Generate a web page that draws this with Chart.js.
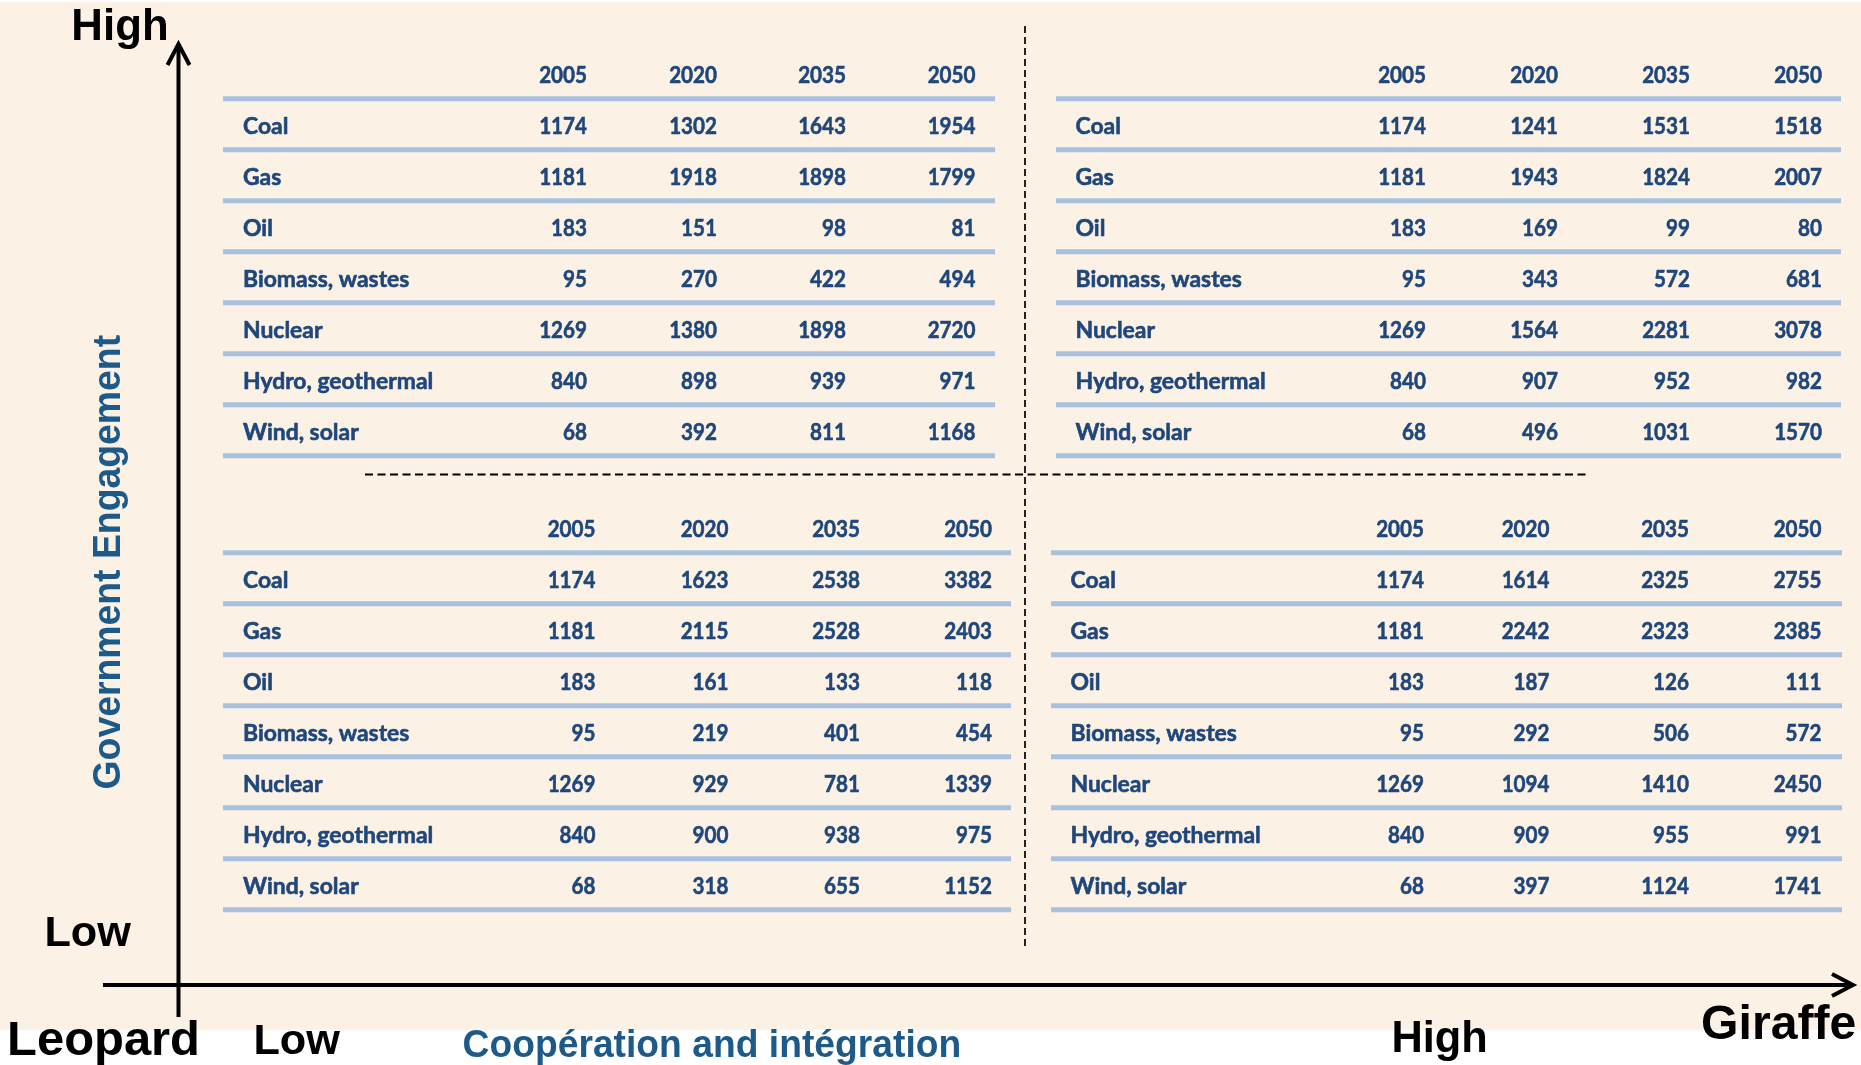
<!DOCTYPE html>
<html>
<head>
<meta charset="utf-8">
<script src="https://cdn.jsdelivr.net/npm/chart.js@4.4.1/dist/chart.umd.min.js"></script>
<style>
html, body { margin: 0; padding: 0; background: #fff; overflow: hidden; }
canvas { display: block; }
</style>
</head>
<body>
<canvas id="quadrants" width="1861" height="1065"></canvas>
<script>
// table headers and rows
const years = ['2005', '2020', '2035', '2050'];
const fuels = ['Coal', 'Gas', 'Oil', 'Biomass, wastes', 'Nuclear', 'Hydro, geothermal', 'Wind, solar'];

// high government engagement, low cooperation (top left)
const highGovLowCoop = [
    [1174, 1302, 1643, 1954],
    [1181, 1918, 1898, 1799],
    [183, 151, 98, 81],
    [95, 270, 422, 494],
    [1269, 1380, 1898, 2720],
    [840, 898, 939, 971],
    [68, 392, 811, 1168]
];

// high government engagement, high cooperation (top right)
const highGovHighCoop = [
    [1174, 1241, 1531, 1518],
    [1181, 1943, 1824, 2007],
    [183, 169, 99, 80],
    [95, 343, 572, 681],
    [1269, 1564, 2281, 3078],
    [840, 907, 952, 982],
    [68, 496, 1031, 1570]
];

// low government engagement, low cooperation (bottom left)
const lowGovLowCoop = [
    [1174, 1623, 2538, 3382],
    [1181, 2115, 2528, 2403],
    [183, 161, 133, 118],
    [95, 219, 401, 454],
    [1269, 929, 781, 1339],
    [840, 900, 938, 975],
    [68, 318, 655, 1152]
];

// low government engagement, high cooperation (bottom right)
const lowGovHighCoop = [
    [1174, 1614, 2325, 2755],
    [1181, 2242, 2323, 2385],
    [183, 187, 126, 111],
    [95, 292, 506, 572],
    [1269, 1094, 1410, 2450],
    [840, 909, 955, 991],
    [68, 397, 1124, 1741]
];

const W = 1861;
const H = 1065;
const rowStep = 51;
const ruleColor = '#A9C0DF';
const tableColor = '#1F477A';
const titleBlue = '#1D5A8A';
const cream = '#FCF1E5';

const tables = [
    {values: highGovLowCoop, left: 223, right: 995, labelX: 243, cols: [587, 717, 846, 975.5], top: 98.7},
    {values: highGovHighCoop, left: 1056, right: 1841, labelX: 1075.5, cols: [1426, 1558, 1690, 1822], top: 98.7},
    {values: lowGovLowCoop, left: 223, right: 1011, labelX: 243, cols: [595.5, 728.5, 860, 992], top: 552.7},
    {values: lowGovHighCoop, left: 1051, right: 1842, labelX: 1070.5, cols: [1424, 1549.5, 1689, 1821.5], top: 552.7}
];

function lineSet(points, color, width, dash) {
    return {
        data: points,
        showLine: true,
        borderColor: color,
        borderWidth: width,
        borderDash: dash || [],
        borderCapStyle: 'butt',
        borderJoinStyle: 'miter',
        pointRadius: 0,
        fill: false
    };
}

function cellSet(t) {
    const pts = [];
    years.forEach((yr, j) => pts.push({x: t.cols[j], y: t.top - 15.5, text: yr, align: 'right'}));
    fuels.forEach((f, i) => {
        const base = t.top + i * rowStep + 35.5;
        pts.push({x: t.labelX, y: base, text: f, align: 'left'});
        t.values[i].forEach((v, j) => pts.push({x: t.cols[j], y: base, text: String(v), align: 'right'}));
    });
    return {data: pts, pointRadius: 0, cells: true};
}

const datasets = [];
tables.forEach(t => {
    for (let k = 0; k <= fuels.length; k++) {
        const y = t.top + k * rowStep;
        datasets.push(lineSet([{x: t.left, y: y}, {x: t.right, y: y}], ruleColor, 5));
    }
    datasets.push(cellSet(t));
});

// quadrant separators
datasets.push(lineSet([{x: 1025, y: 26}, {x: 1025, y: 946}], '#000', 1.7, [7, 4]));
datasets.push(lineSet([{x: 365, y: 474.5}, {x: 1589, y: 474.5}], '#000', 1.8, [8, 4.5]));

// axes with arrow heads
const axisX = 178.5, axisY = 985;
datasets.push(lineSet([{x: axisX, y: 44}, {x: axisX, y: 1017}], '#000', 4));
datasets.push(lineSet([{x: 103, y: axisY}, {x: 1853, y: axisY}], '#000', 4));
datasets.push(lineSet([{x: axisX - 11, y: 65}, {x: axisX, y: 44}, {x: axisX + 11, y: 65}], '#000', 4));
datasets.push(lineSet([{x: 1832, y: axisY - 11}, {x: 1853, y: axisY}, {x: 1832, y: axisY + 11}], '#000', 4));

function fitText(ctx, text, x, y, width, cap, family, color, rotate) {
    ctx.save();
    ctx.font = 'bold 100px ' + family;
    const m = ctx.measureText(text);
    const capH = ctx.measureText('H').actualBoundingBoxAscent;
    const inkW = m.actualBoundingBoxLeft + m.actualBoundingBoxRight;
    const sx = width / inkW;
    ctx.translate(x, y);
    if (rotate) ctx.rotate(rotate);
    ctx.scale(sx, cap / capH);
    ctx.fillStyle = color;
    ctx.textAlign = 'left';
    ctx.textBaseline = 'alphabetic';
    ctx.fillText(text, m.actualBoundingBoxLeft, 0);
    ctx.restore();
}

const backdrop = {
    id: 'backdrop',
    beforeDraw(chart) {
        const ctx = chart.ctx;
        const xs = chart.scales.x, ys = chart.scales.y;
        ctx.save();
        ctx.fillStyle = '#fff';
        ctx.fillRect(0, 0, chart.width, chart.height);
        ctx.fillStyle = cream;
        const x0 = xs.getPixelForValue(0), y0 = ys.getPixelForValue(2);
        ctx.fillRect(x0, y0, xs.getPixelForValue(W) - x0, ys.getPixelForValue(1030) - y0);
        ctx.restore();
    }
};

const cellText = {
    id: 'cellText',
    afterDatasetsDraw(chart) {
        const ctx = chart.ctx;
        ctx.save();
        ctx.font = 'bold 100px Lato';
        const ref = ctx.measureText('Biomass, wastes');
        const size = 100 * 164 / (ref.actualBoundingBoxLeft + ref.actualBoundingBoxRight);
        ctx.font = 'bold ' + size.toFixed(2) + 'px Lato';
        const num = ctx.measureText('1174');
        const numScale = 46.7 / (num.actualBoundingBoxLeft + num.actualBoundingBoxRight);
        ctx.fillStyle = tableColor;
        ctx.strokeStyle = tableColor;
        ctx.lineWidth = 0.6;
        ctx.lineJoin = 'round';
        ctx.textBaseline = 'alphabetic';
        chart.data.datasets.forEach((ds, i) => {
            if (!ds.cells) return;
            const meta = chart.getDatasetMeta(i);
            meta.data.forEach((el, k) => {
                const p = ds.data[k];
                ctx.save();
                ctx.translate(el.x, el.y);
                if (p.align === 'right') ctx.scale(numScale, 1);
                ctx.textAlign = p.align;
                ctx.fillText(p.text, 0, 0);
                ctx.strokeText(p.text, 0, 0);
                ctx.restore();
            });
        });
        ctx.restore();
    },
    afterDraw(chart) {
        const ctx = chart.ctx;
        const xs = chart.scales.x, ys = chart.scales.y;
        const arial = "'Liberation Sans', Arial, sans-serif";
        const px = v => xs.getPixelForValue(v);
        const py = v => ys.getPixelForValue(v);
        fitText(ctx, 'High', px(74), py(40), 92, 31, arial, '#000');
        fitText(ctx, 'Low', px(47), py(946), 84, 30, arial, '#000');
        fitText(ctx, 'Leopard', px(10), py(1055), 187, 33, arial, '#000');
        fitText(ctx, 'Low', px(256), py(1054), 84, 30, arial, '#000');
        fitText(ctx, 'Coopération and intégration', px(464), py(1057), 495, 26.5, arial, titleBlue);
        fitText(ctx, 'High', px(1394), py(1052), 91, 31, arial, '#000');
        fitText(ctx, 'Giraffe', px(1703), py(1039), 152, 33, arial, '#000');
        fitText(ctx, 'Government Engagement', px(120), py(788), 453, 27, arial, titleBlue, -Math.PI / 2);
    }
};

new Chart(document.getElementById('quadrants'), {
    type: 'scatter',
    data: {datasets: datasets},
    options: {
        responsive: false,
        animation: false,
        events: [],
        layout: {padding: 0},
        plugins: {legend: {display: false}, tooltip: {enabled: false}},
        scales: {
            x: {type: 'linear', min: 0, max: W, display: false},
            y: {type: 'linear', min: 0, max: H, reverse: true, display: false}
        }
    },
    plugins: [backdrop, cellText]
});
</script>
</body>
</html>
